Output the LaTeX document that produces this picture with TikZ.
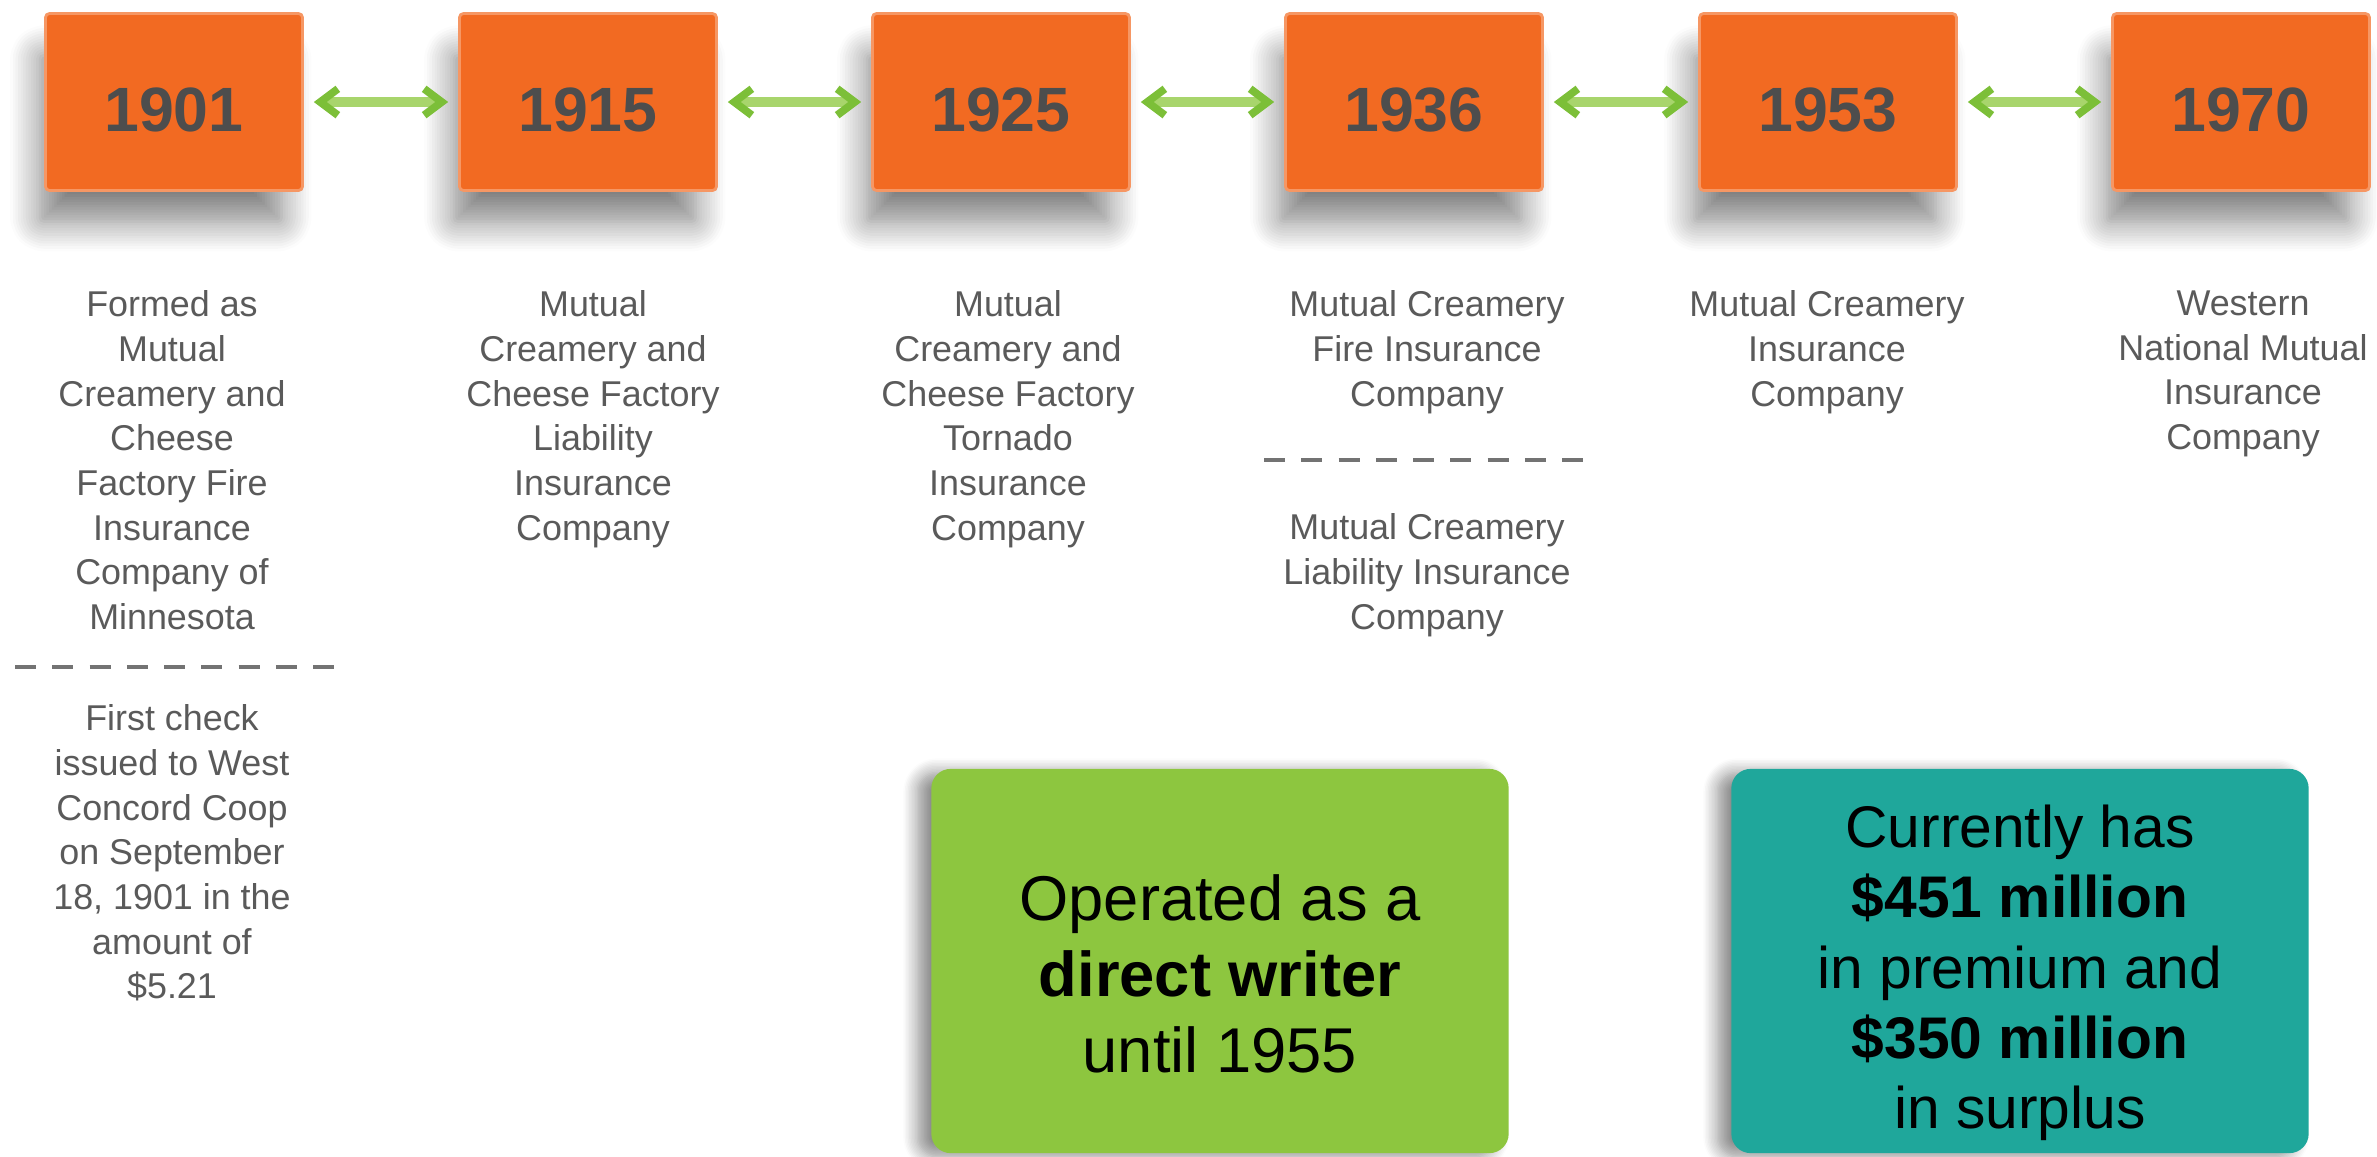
\documentclass[tikz,border=0pt]{standalone}
\usepackage{fontspec}
\setmainfont{Liberation Sans}
\usepackage{xcolor}
\usetikzlibrary{arrows.meta, positioning, shadows.blur}

\definecolor{yearorange}{HTML}{F26A22}
\definecolor{yeargray}{HTML}{4D4D4D}
\definecolor{textgray}{HTML}{5A5A5A}
\definecolor{linegreen}{HTML}{A8D56C}
\definecolor{tipgreen}{HTML}{7CBF38}
\definecolor{boxgreen}{HTML}{8DC63F}
\definecolor{boxteal}{HTML}{1FA79B}

\tikzset{
  year/.style={rectangle, rounded corners=1.2pt, fill=yearorange,
    draw=yearorange!70!white, line width=0.8pt,
    minimum width=2.57cm, minimum height=1.77cm,
    text height=17pt, text depth=0pt, text=yeargray,
    font=\fontsize{17.8}{20}\selectfont\bfseries,
    blur shadow={shadow xshift=-4pt, shadow yshift=-11pt, shadow scale=0.94,
      shadow blur radius=9pt, shadow blur steps=12, shadow opacity=50}},
  link/.style={line width=2.6pt, linegreen,
    {Straight Barb[length=5pt,width=7.5pt,line width=2.2pt,color=tipgreen]}-{Straight Barb[length=5pt,width=7.5pt,line width=2.2pt,color=tipgreen]},
    shorten <=2.8pt, shorten >=2.8pt},
  desc/.style={align=center, text=textgray, inner sep=0pt, anchor=north,
    font=\fontsize{10.2}{12.7}\selectfont},
  sepline/.style={textgray!85, line width=1.1pt, dash pattern=on 6pt off 4.6pt},
  note/.style={rectangle, rounded corners=5.5pt, minimum width=5.77cm,
    minimum height=3.84cm,
    blur shadow={shadow xshift=-4pt, shadow yshift=-1pt,
      shadow blur radius=4pt, shadow blur steps=10, shadow opacity=45}},
  notetext/.style={align=center, text=black, inner sep=0pt}
}

\begin{document}
\begin{tikzpicture}[x=0.01cm, y=-0.01cm]
\useasboundingbox (0,0) rectangle (2377,1157);
% Year boxes
\node[year] (y1901) at (174,102) {1901};
\node[year] (y1915) at (588,102) {1915};
\node[year] (y1925) at (1001,102) {1925};
\node[year] (y1936) at (1414,102) {1936};
\node[year] (y1953) at (1828,102) {1953};
\node[year] (y1970) at (2241,102) {1970};
% Links between years
\draw[link] (y1901) -- (y1915);
\draw[link] (y1915) -- (y1925);
\draw[link] (y1925) -- (y1936);
\draw[link] (y1936) -- (y1953);
\draw[link] (y1953) -- (y1970);
% Company names
\node[desc] (d1901) at (172,290) {Formed as\\Mutual\\Creamery and\\Cheese\\Factory Fire\\Insurance\\Company of\\Minnesota};
\draw[sepline] (15,667) -- (337,667);
\node[desc] (d1901b) at (172,704) {First check\\issued to West\\Concord Coop\\on September\\18, 1901 in the\\amount of\\\$5.21};
\node[desc] (d1915) at (593,290) {Mutual\\Creamery and\\Cheese Factory\\Liability\\Insurance\\Company};
\node[desc] (d1925) at (1008,290) {Mutual\\Creamery and\\Cheese Factory\\Tornado\\Insurance\\Company};
\node[desc] (d1936) at (1427,290) {Mutual Creamery\\Fire Insurance\\Company};
\draw[sepline] (1264,460) -- (1584,460);
\node[desc] (d1936b) at (1427,513) {Mutual Creamery\\Liability Insurance\\Company};
\node[desc] (d1953) at (1827,290) {Mutual Creamery\\Insurance\\Company};
\node[desc] (d1970) at (2243,290) {Western\\National Mutual\\Insurance\\Company};
% Facts
\node[note, fill=boxgreen] (direct) at (1220,961) {};
\node[notetext, font=\fontsize{18}{21.6}\selectfont] (directtext) at ([yshift=-3.6pt]direct.center)
  {Operated as a\\\textbf{direct writer}\\until 1955};
\node[note, fill=boxteal] (today) at (2020,961) {};
\node[notetext, font=\fontsize{16.7}{20}\selectfont] (todaytext) at ([yshift=-3.4pt]today.center)
  {Currently has\\\textbf{\$451 million}\\in premium and\\\textbf{\$350 million}\\in surplus};
\end{tikzpicture}
\end{document}
